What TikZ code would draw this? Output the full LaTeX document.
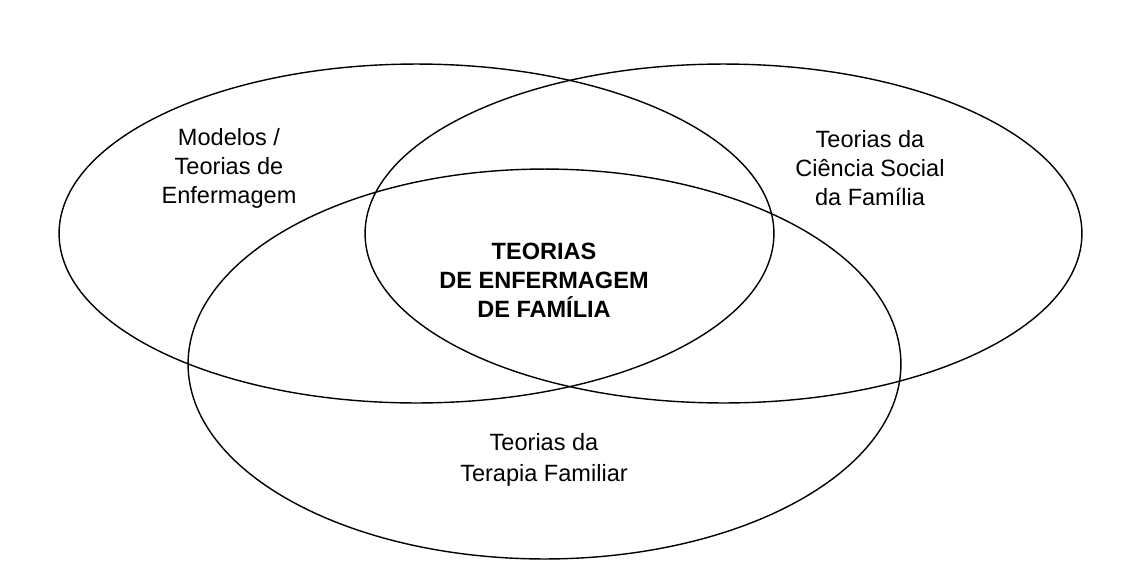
\documentclass[tikz,border=0pt]{standalone}
\usepackage{fontspec}
\setmainfont{Liberation Sans}
\usetikzlibrary{shapes.geometric}

\tikzset{
  conjunto/.style={draw, ellipse, inner sep=0pt, line width=0.8pt},
  rotulo/.style={align=center, font=\fontsize{13.4}{16.5}\selectfont}
}

\begin{document}
\begin{tikzpicture}[x=0.02cm,y=-0.02cm]
  \useasboundingbox (0,0) rectangle (1123,582);

  % os tres conjuntos
  \node[conjunto, minimum width=14.3cm, minimum height=6.78cm] (enf) at (416.5,233.5) {};
  \node[conjunto, minimum width=14.34cm, minimum height=6.78cm] (soc) at (723.5,233.5) {};
  \node[conjunto, minimum width=14.26cm, minimum height=7.8cm] (ter) at (544.5,364) {};

  % textos
  \node[rotulo] (tenf) at (229,168) {Modelos /\\Teorias de\\Enfermagem};
  \node[rotulo] (tsoc) at (870,168) {Teorias da\\Ciência Social\\da Família};
  \node[rotulo, font=\fontsize{13.4}{16.5}\selectfont\bfseries] (tcen) at (544,280) {TEORIAS\\DE ENFERMAGEM\\DE FAMÍLIA};
  \node[rotulo, font=\fontsize{13.4}{18}\selectfont] (tter) at (544,460) {Teorias da\\Terapia Familiar};
\end{tikzpicture}
\end{document}
